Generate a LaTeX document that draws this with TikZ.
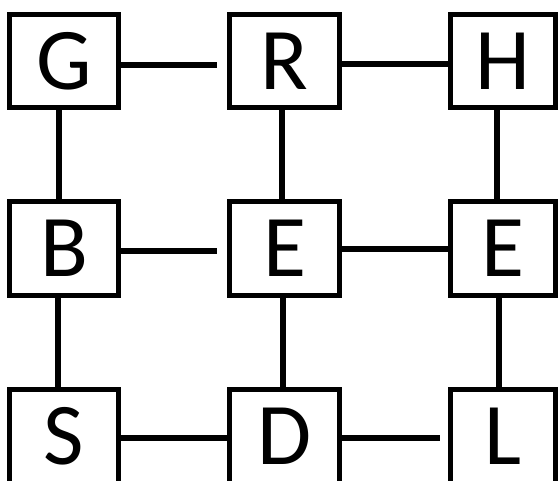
\documentclass[tikz,border=0pt]{standalone}
\usepackage{fontspec}
\setmainfont{Carlito}
\begin{document}
\begin{tikzpicture}[x=1pt,y=-1pt,
  box/.style={draw=black,line width=5pt,rectangle,inner sep=0pt,minimum width=110pt,minimum height=93pt,font=\fontsize{88}{88}\selectfont},
  link/.style={line width=6pt,draw=black}]
\useasboundingbox (0,0) rectangle (559,480);
\clip (0,0) rectangle (559,480);
\node[box,minimum width=109pt] (G) at (64,61) {G};
\node[box] (R) at (284.5,61) {R};
\node[box,minimum width=105pt] (H) at (503,61) {H};
\node[box,minimum width=109pt,minimum height=94pt] (B) at (64,248.5) {B};
\node[box,minimum height=94pt] (E1) at (284.5,248.5) {E};
\node[box,minimum width=105pt,minimum height=94pt] (E2) at (503,248.5) {E};
\node[box,minimum width=109pt,minimum height=94pt] (S) at (64,436.5) {S};
\node[box,minimum height=94pt] (D) at (284.5,436.5) {D};
\node[box,minimum width=105pt,minimum height=94pt] (L) at (503,436.5) {L};
% horizontal connectors
\draw[link] ([yshift=-4pt]G.east) -- ([yshift=-4pt,xshift=-10pt]R.west);
\draw[link] ([yshift=-3pt]R.east) -- ([yshift=-3pt]H.west);
\draw[link] ([yshift=-2.5pt]B.east) -- ([yshift=-2.5pt,xshift=-10pt]E1.west);
\draw[link] ([yshift=-0.5pt]E1.east) -- ([yshift=-0.5pt]E2.west);
\draw[link] ([yshift=-1.5pt]S.east) -- ([yshift=-1.5pt]D.west);
\draw[link] ([yshift=-1.5pt]D.east) -- ([yshift=-1.5pt,xshift=-8pt]L.west);
% vertical connectors
\draw[link] ([xshift=-5.5pt]G.south) -- ([xshift=-5.5pt]B.north);
\draw[link] ([xshift=-2.5pt]R.south) -- ([xshift=-2.5pt]E1.north);
\draw[link] ([xshift=-6pt]H.south) -- ([xshift=-6pt]E2.north);
\draw[link] ([xshift=-6pt]B.south) -- ([xshift=-6pt]S.north);
\draw[link] ([xshift=-1.5pt]E1.south) -- ([xshift=-1.5pt]D.north);
\draw[link] ([xshift=-4pt]E2.south) -- ([xshift=-4pt]L.north);
\end{tikzpicture}
\end{document}
